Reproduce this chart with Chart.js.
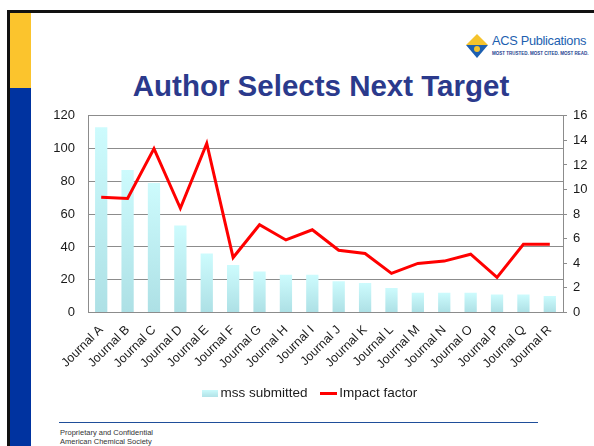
<!DOCTYPE html>
<html>
<head>
<meta charset="utf-8">
<script src="https://cdn.jsdelivr.net/npm/chart.js@4"></script>
<style>
  body { margin: 0; width: 594px; height: 446px; background: #fff; position: relative; overflow: hidden; font-family: 'Liberation Sans', Arial, sans-serif; }
  .frame-top { position: absolute; left: 7px; top: 10px; width: 587px; height: 3px; background: #111; }
  .frame-left { position: absolute; left: 7px; top: 10px; width: 3px; height: 436px; background: #111; }
  .bar-yellow { position: absolute; left: 10px; top: 13px; width: 21px; height: 75px; background: #fbc42d; }
  .bar-blue { position: absolute; left: 10px; top: 88px; width: 21px; height: 358px; background: #0033a0; }
  .logo { position: absolute; left: 465px; top: 33px; }
  .logo-text { position: absolute; left: 492px; top: 33px; color: #1d5fb0; font-size: 12.8px; letter-spacing: -0.3px; white-space: nowrap; }
  .logo-tag { position: absolute; left: 492px; top: 51px; color: #1d3f8f; font-size: 4.5px; font-weight: bold; white-space: nowrap; }
  h1 { position: absolute; left: 60px; width: 522px; top: 70px; margin: 0; text-align: center; font-size: 29.5px; line-height: 32px; font-weight: bold; color: #2b3a8c; }
  #wrap { position: absolute; left: 30px; top: 95px; width: 564px; height: 315px; }
  .foot-line { position: absolute; left: 59px; top: 422px; width: 479px; height: 1px; background: #1f4e9a; }
  .foot { position: absolute; left: 60px; top: 428px; font-size: 7.5px; line-height: 9px; color: #333; }
</style>
</head>
<body>
<div class="frame-top"></div>
<div class="frame-left"></div>
<div class="bar-yellow"></div>
<div class="bar-blue"></div>
<svg class="logo" width="24" height="26" viewBox="0 0 24 26">
  <polygon points="12,1 23,12 1,12" fill="#f5c32c"/>
  <polygon points="1,12 23,12 12,25" fill="#1d5fb0"/>
  <circle cx="12" cy="16" r="3" fill="#f5c32c"/>
</svg>
<div class="logo-text">ACS Publications</div>
<div class="logo-tag">MOST TRUSTED. MOST CITED. MOST READ.</div>
<h1>Author Selects Next Target</h1>
<div id="wrap"><canvas id="chart"></canvas></div>
<div class="foot-line"></div>
<div class="foot">Proprietary and Confidential<br>American Chemical Society</div>
<script>
// du lieu bieu do
const journals = ['Journal A', 'Journal B', 'Journal C', 'Journal D', 'Journal E', 'Journal F',
    'Journal G', 'Journal H', 'Journal I', 'Journal J', 'Journal K', 'Journal L',
    'Journal M', 'Journal N', 'Journal O', 'Journal P', 'Journal Q', 'Journal R'];
const mssSubmitted = [113, 87, 79, 53, 36, 29, 25, 23, 23, 19, 18, 15, 12, 12, 12, 11, 11, 10];
const impactFactor = [9.37, 9.27, 13.33, 8.48, 13.76, 4.47, 7.14, 5.9, 6.73, 5.06, 4.8, 3.18, 3.99, 4.18, 4.74, 2.86, 5.55, 5.55];
const leftTicks = [0, 20, 40, 60, 80, 100, 120];
const rightTicks = [0, 2, 4, 6, 8, 10, 12, 14, 16];

Chart.defaults.font.family = "'Liberation Sans', Arial, sans-serif";
Chart.defaults.color = '#1a1a1a';

// mau cho o chu thich
function legendSwatch(w, h, fill) {
    const c = document.createElement('canvas');
    c.width = w; c.height = h;
    const g = c.getContext('2d');
    if (fill === 'grad') {
        const gr = g.createLinearGradient(0, 0, 0, h);
        gr.addColorStop(0, '#cdfbfd');
        gr.addColorStop(1, '#b2e3e8');
        g.fillStyle = gr;
    } else {
        g.fillStyle = fill;
    }
    g.fillRect(0, 0, w, h);
    return c;
}
const barSwatch = legendSwatch(16, 7, 'grad');
const lineSwatch = legendSwatch(17, 3, '#ff0000');

// gradient cho tung cot
function barGradient(context) {
    const chart = context.chart;
    if (!chart.chartArea || context.type !== 'data') return '#c0eef2';
    const y = chart.scales.y;
    const top = y.getPixelForValue(context.parsed.y);
    const base = y.getPixelForValue(0);
    const gr = chart.ctx.createLinearGradient(0, top, 0, base);
    gr.addColorStop(0, '#cdfbfd');
    gr.addColorStop(1, '#ade0e5');
    return gr;
}

const ctx = document.getElementById('chart').getContext('2d');
const chart = new Chart(ctx, {
    data: {
        labels: journals,
        datasets: [{
            type: 'line',
            label: 'Impact factor',
            data: impactFactor,
            yAxisID: 'y2',
            borderColor: '#ff0000',
            backgroundColor: '#ff0000',
            borderWidth: 3,
            pointRadius: 0,
            tension: 0,
            order: 0
        }, {
            type: 'bar',
            label: 'mss submitted',
            data: mssSubmitted,
            yAxisID: 'y',
            backgroundColor: barGradient,
            borderWidth: 0,
            barPercentage: 0.93,
            categoryPercentage: 0.5,
            order: 1
        }]
    },
    options: {
        responsive: true,
        maintainAspectRatio: false,
        animation: false,
        layout: { padding: { top: 16, bottom: 0, left: 0, right: 0 } },
        plugins: {
            tooltip: { enabled: false },
            legend: {
                position: 'bottom',
                reverse: true,
                labels: {
                    usePointStyle: true,
                    pointStyleWidth: 7,
                    boxHeight: 7,
                    padding: 18,
                    font: { size: 13.5 },
                    color: '#1a1a1a',
                    generateLabels: function(chart) {
                        const items = Chart.defaults.plugins.legend.labels.generateLabels(chart);
                        items.forEach(item => {
                            item.pointStyle = item.datasetIndex === 1 ? barSwatch : lineSwatch;
                        });
                        return items;
                    }
                }
            }
        },
        scales: {
            x: {
                grid: { display: false },
                border: { color: '#8c8c8c' },
                ticks: { minRotation: 45, maxRotation: 45, autoSkip: false, font: { size: 12.5 }, padding: 2 },
                afterFit: function(scale) { scale.height = 56; }
            },
            y: {
                position: 'left',
                min: 0, max: 120,
                afterBuildTicks: function(scale) { scale.ticks = leftTicks.map(v => ({ value: v })); },
                grid: { color: '#8c8c8c', drawTicks: false },
                border: { color: '#8c8c8c' },
                ticks: { font: { size: 13 }, padding: 13 },
                afterFit: function(scale) { scale.width = 58; }
            },
            y2: {
                position: 'right',
                min: 0, max: 16,
                afterBuildTicks: function(scale) { scale.ticks = rightTicks.map(v => ({ value: v })); },
                grid: { drawOnChartArea: false, color: '#8c8c8c', tickLength: 4 },
                border: { color: '#8c8c8c' },
                ticks: { font: { size: 13 }, padding: 6 },
                afterFit: function(scale) { scale.width = 31; }
            }
        }
    }
});
</script>
</body>
</html>
